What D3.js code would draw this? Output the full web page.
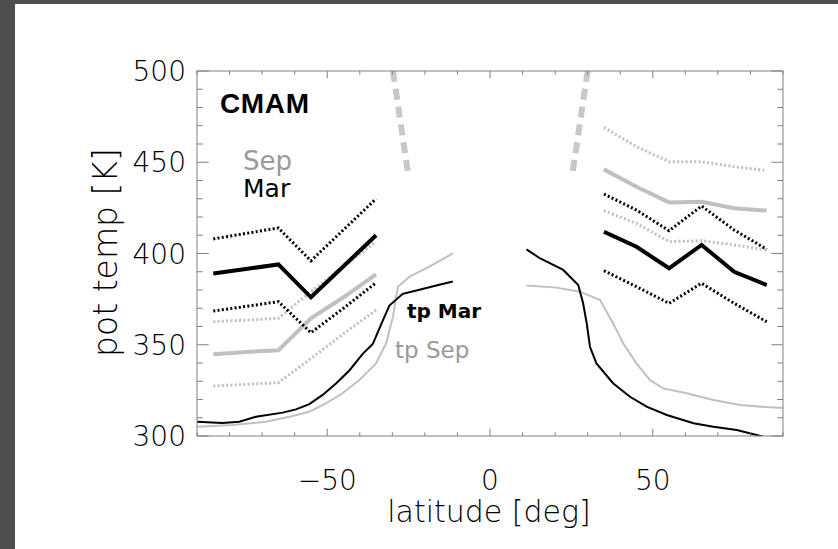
<!DOCTYPE html>
<html>
<head>
<meta charset="utf-8">
<script src="https://cdn.jsdelivr.net/npm/d3@7"></script>
<style>
  html, body { margin: 0; padding: 0; background: #4e4e4e; }
  svg { display: block; }
</style>
</head>
<body>
<svg id="chart" width="838" height="549"></svg>
<script>
// latitude bins for the binned profiles
const latSH = [-85, -75, -65, -55, -45, -35];
const latNH = [35, 45, 55, 65, 75, 85];

// March (black) / September (grey): mean (solid) and +-spread (dotted)
const marMeanSH  = [389, 391.5, 394, 376, 393, 410];
const marUpperSH = [408, 411, 414, 396, 413, 430];
const marLowerSH = [368.5, 371, 373.6, 356.6, 370, 384];
const sepMeanSH  = [344.8, 346, 347, 364.5, 376, 388.6];
const sepUpperSH = [362.6, 363.5, 364.5, 379, 393, 406.5];
const sepLowerSH = [327.4, 328.3, 329.2, 342.5, 356, 369];

const marMeanNH  = [411.9, 403.7, 391.9, 404.7, 390, 382.7];
const marUpperNH = [432.6, 423.8, 412.5, 426, 412.9, 402.3];
const marLowerNH = [390.6, 381.8, 372.7, 383.7, 372.7, 362.6];
const sepMeanNH  = [446.1, 436.6, 428, 428.4, 424.8, 423.5];
const sepUpperNH = [469.1, 458.5, 450.3, 450.3, 447.6, 445.4];
const sepLowerNH = [423.5, 416.5, 406.5, 407, 404.7, 401.9];

// thermal tropopause
const tpMarSHLat = [-90, -82.2, -77, -71.9, -63.7, -59.6, -55.5, -51.4, -47.3, -43.2, -39.1, -36, -32.9, -30.9, -26.8, -22.6, -16.5, -11.4];
const tpMarSH    = [307.8, 307.1, 307.8, 310.5, 312.8, 314.6, 317.5, 322.5, 328.8, 335.9, 345, 350.5, 363.3, 371.5, 377.9, 379.7, 382.5, 384.7];
const tpSepSHLat = [-90, -79, -68.8, -61.6, -55.5, -50.4, -45.3, -40.1, -35, -31.9, -29.8, -28.3, -24.7, -18.6, -11.4];
const tpSepSH    = [305.1, 306, 307.8, 310.6, 313.3, 317.9, 323.4, 330.7, 339.8, 350.8, 365.4, 381.8, 387.3, 392.8, 400.1];
const tpMarNHLat = [11.2, 15.3, 22.5, 27.1, 28.6, 29.7, 30.7, 32.7, 37.8, 43, 48.1, 54.3, 62.5, 68.6, 75.8, 84];
const tpMarNH    = [402.3, 397.4, 391, 382.7, 372.7, 361.8, 348.9, 339.8, 328.9, 321.5, 316.1, 311.5, 307, 305.1, 303.3, 299.6];
const tpSepNHLat = [11.2, 20.4, 27.6, 33.8, 37.8, 40.9, 45, 49.1, 53.2, 60.4, 68.6, 76.8, 86, 90];
const tpSepNH    = [382.4, 381.3, 379.1, 374.5, 361.8, 350.8, 339.8, 330.7, 326.1, 323.4, 319.7, 317, 315.7, 315.3];

// thick dashed grey lines
const jetSHLat = [-29.8, -25.2];
const jetSH    = [500, 444];
const jetNHLat = [30, 25.4];
const jetNH    = [500, 444.8];

const xTicks = [-50, 0, 50];
const yTicks = [300, 350, 400, 450, 500];

const svg = d3.select('#chart');
const W = 838, H = 549;
const m = { left: 197, right: 783, top: 71, bottom: 436 };

// white page with dark frame on left/top
svg.append('rect').attr('x', 15).attr('y', 4).attr('width', W - 15).attr('height', H - 4).attr('fill', '#fff');

const x = d3.scaleLinear().domain([-90, 90]).range([m.left, m.right]);
const y = d3.scaleLinear().domain([300, 500]).range([m.bottom, m.top]);

svg.append('clipPath').attr('id', 'clip')
  .append('rect').attr('x', m.left).attr('y', m.top)
  .attr('width', m.right - m.left).attr('height', m.bottom - m.top);

const plot = svg.append('g').attr('clip-path', 'url(#clip)');
const line = d3.line().x(d => x(d[0])).y(d => y(d[1]));
const zip = (a, b) => a.map((v, i) => [v, b[i]]);

const BLACK = '#000', GREY = '#c0c0c0';

function draw(lats, vals, color, width, dash) {
  plot.append('path')
    .attr('d', line(zip(lats, vals)))
    .attr('fill', 'none')
    .attr('stroke', color)
    .attr('stroke-width', width)
    .attr('stroke-dasharray', dash || null);
}

// tropopause (thin)
draw(tpSepSHLat, tpSepSH, GREY, 2);
draw(tpSepNHLat, tpSepNH, GREY, 2);
draw(tpMarSHLat, tpMarSH, BLACK, 2);
draw(tpMarNHLat, tpMarNH, BLACK, 2);

// dashed thick grey
draw(jetSHLat, jetSH, '#c8c8c8', 6, '11,7');
draw(jetNHLat, jetNH, '#c8c8c8', 6, '11,7');

// Sep profiles
draw(latSH, sepUpperSH, GREY, 3, '2,2.3');
draw(latSH, sepLowerSH, GREY, 3, '2,2.3');
draw(latNH, sepUpperNH, GREY, 3, '2,2.3');
draw(latNH, sepLowerNH, GREY, 3, '2,2.3');
draw(latSH, sepMeanSH, GREY, 4);
draw(latNH, sepMeanNH, GREY, 4);

// Mar profiles
draw(latSH, marUpperSH, BLACK, 3, '2,2.3');
draw(latSH, marLowerSH, BLACK, 3, '2,2.3');
draw(latNH, marUpperNH, BLACK, 3, '2,2.3');
draw(latNH, marLowerNH, BLACK, 3, '2,2.3');
draw(latSH, marMeanSH, BLACK, 4);
draw(latNH, marMeanNH, BLACK, 4);

// axes box + ticks (IDL style, inward on all sides)
const AX = '#808080';
const axes = svg.append('g').attr('stroke', AX).attr('stroke-width', 1).attr('fill', 'none');
axes.append('rect').attr('x', m.left).attr('y', m.top)
  .attr('width', m.right - m.left).attr('height', m.bottom - m.top);

d3.range(-90, 91, 10).forEach(t => {
  const len = t % 50 === 0 ? 7.3 : 3.7;
  axes.append('line').attr('x1', x(t)).attr('x2', x(t)).attr('y1', m.bottom).attr('y2', m.bottom - len);
  axes.append('line').attr('x1', x(t)).attr('x2', x(t)).attr('y1', m.top).attr('y2', m.top + len);
});
d3.range(300, 501, 10).forEach(t => {
  const len = t % 50 === 0 ? 11.7 : 5.8;
  axes.append('line').attr('y1', y(t)).attr('y2', y(t)).attr('x1', m.left).attr('x2', m.left + len);
  axes.append('line').attr('y1', y(t)).attr('y2', y(t)).attr('x1', m.right).attr('x2', m.right - len);
});

const LIGHT = '"DejaVu Sans", sans-serif';

svg.selectAll('.ytl').data(yTicks).join('text')
  .attr('x', m.left - 11).attr('y', d => y(d) + 10)
  .attr('text-anchor', 'end')
  .attr('font-family', LIGHT).attr('font-weight', 200).attr('font-size', 28)
  .attr('fill', '#000').text(d => d);

svg.selectAll('.xtl').data(xTicks).join('text')
  .attr('x', d => x(d)).attr('y', m.bottom + 54)
  .attr('text-anchor', 'middle')
  .attr('font-family', LIGHT).attr('font-weight', 200).attr('font-size', 28)
  .attr('fill', '#000').text(d => d < 0 ? '\u2212' + Math.abs(d) : d);

svg.append('text')
  .attr('x', (m.left + m.right) / 2 - 1).attr('y', 522)
  .attr('text-anchor', 'middle')
  .attr('font-family', LIGHT).attr('font-weight', 200).attr('font-size', 30)
  .text('latitude [deg]');

svg.append('text')
  .attr('transform', `translate(117,${(m.top + m.bottom) / 2 - 1}) rotate(-90)`)
  .attr('text-anchor', 'middle')
  .attr('font-family', LIGHT).attr('font-weight', 200).attr('font-size', 33)
  .text('pot temp [K]');

// annotations
svg.append('text').attr('x', 220).attr('y', 113)
  .attr('font-family', '"Liberation Sans", Arial, sans-serif').attr('font-weight', 'bold')
  .attr('font-size', 28).attr('textLength', 89).text('CMAM');
svg.append('text').attr('x', 243).attr('y', 170)
  .attr('font-family', LIGHT).attr('font-size', 26).attr('fill', '#9a9a9a').text('Sep');
svg.append('text').attr('x', 243).attr('y', 197)
  .attr('font-family', LIGHT).attr('font-size', 25).attr('fill', '#000').text('Mar');
svg.append('text').attr('x', 407).attr('y', 318)
  .attr('font-family', LIGHT).attr('font-weight', 'bold').attr('font-size', 20).attr('fill', '#000').text('tp Mar');
svg.append('text').attr('x', 395).attr('y', 358)
  .attr('font-family', LIGHT).attr('font-size', 23).attr('fill', '#9a9a9a').text('tp Sep');
</script>
</body>
</html>
